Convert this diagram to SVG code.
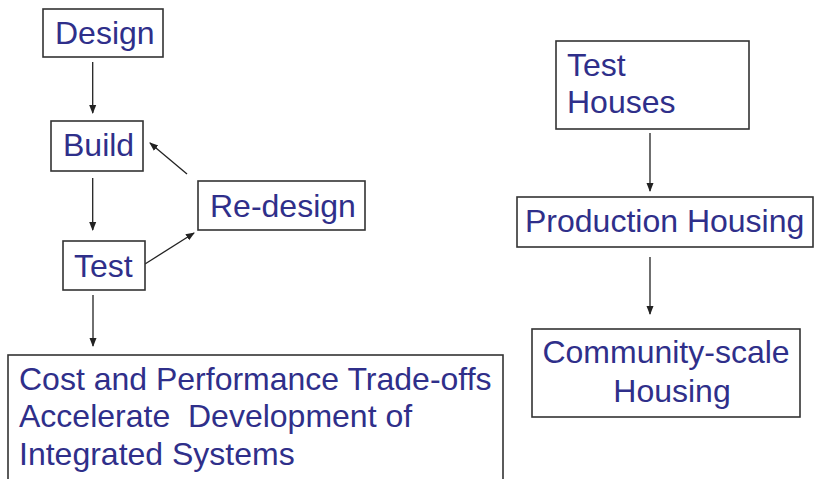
<svg xmlns="http://www.w3.org/2000/svg" width="814" height="479" viewBox="0 0 814 479">
<style>
.box{fill:#fff;stroke:#333;stroke-width:1.6}
.t{font-family:"Liberation Sans",Arial,sans-serif;font-size:32px;fill:#2f2f8a}
.c{stroke:#222;stroke-width:1.3;fill:none;marker-end:url(#ah)}
</style>
<defs>
<marker id="ah" markerWidth="10" markerHeight="10" refX="8" refY="5" orient="auto" markerUnits="userSpaceOnUse">
<path d="M0,1.5 L9,5 L0,8.5 z" fill="#222"/>
</marker>
</defs>
<rect width="814" height="479" fill="#fff"/>
<g id="connectors">
<line class="c" x1="92.7" y1="62" x2="92.7" y2="113"/>
<line class="c" x1="92.7" y1="178" x2="92.7" y2="230"/>
<line class="c" x1="187" y1="174" x2="150" y2="143"/>
<line class="c" x1="145" y1="264" x2="194" y2="233"/>
<line class="c" x1="93" y1="295" x2="93" y2="346"/>
<line class="c" x1="650" y1="133" x2="650" y2="191"/>
<line class="c" x1="650" y1="257" x2="650" y2="314"/>
</g>
<g id="design">
<rect class="box" x="43" y="9" width="120" height="48"/>
<text class="t" x="55" y="44">Design</text>
</g>
<g id="build">
<rect class="box" x="51" y="121" width="92" height="50"/>
<text class="t" x="63" y="156">Build</text>
</g>
<g id="redesign">
<rect class="box" x="198" y="181" width="167" height="49"/>
<text class="t" x="210" y="217">Re-design</text>
</g>
<g id="test">
<rect class="box" x="63" y="241" width="82" height="49"/>
<text class="t" x="74" y="277">Test</text>
</g>
<g id="cost">
<rect class="box" x="8" y="355" width="495" height="130"/>
<text class="t" x="19" y="390">Cost and Performance Trade-offs</text>
<text class="t" x="19" y="427" xml:space="preserve">Accelerate  Development of</text>
<text class="t" x="19" y="465">Integrated Systems</text>
</g>
<g id="testhouses">
<rect class="box" x="556" y="41" width="193" height="88"/>
<text class="t" x="567" y="76">Test</text>
<text class="t" x="567" y="113">Houses</text>
</g>
<g id="production">
<rect class="box" x="517" y="197" width="296" height="50"/>
<text class="t" x="525" y="232">Production Housing</text>
</g>
<g id="community">
<rect class="box" x="532" y="329" width="268" height="88"/>
<text class="t" x="666" y="363" text-anchor="middle">Community-scale</text>
<text class="t" x="672" y="402" text-anchor="middle">Housing</text>
</g>
</svg>
